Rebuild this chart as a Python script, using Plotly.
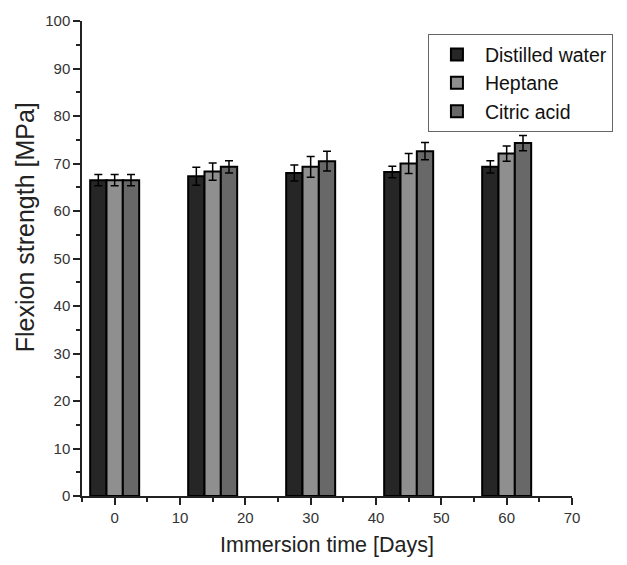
import plotly.graph_objects as go

days = [0, 15, 30, 45, 60]
series_names = ["Distilled water", "Heptane", "Citric acid"]
water = [66.5, 67.3, 68.0, 68.2, 69.3]
water_err = [1.2, 1.9, 1.7, 1.2, 1.3]
heptane = [66.5, 68.3, 69.3, 70.0, 72.1]
heptane_err = [1.2, 1.8, 2.2, 2.1, 1.6]
citric = [66.5, 69.3, 70.5, 72.6, 74.3]
citric_err = [1.2, 1.3, 2.1, 1.8, 1.6]
colors = ["#262626", "#8f8f8f", "#686868"]

fig = go.Figure()
for name, vals, errs, col in zip(series_names, [water, heptane, citric],
                                 [water_err, heptane_err, citric_err], colors):
    fig.add_trace(go.Bar(
        x=days, y=vals, name=name,
        marker=dict(color=col, line=dict(color="black", width=2)),
        error_y=dict(type="data", array=errs, visible=True,
                     color="black", thickness=1.5, width=4),
    ))

font_family = "Liberation Sans, Arial, sans-serif"
fig.update_layout(
    width=627, height=565,
    margin=dict(l=82, r=55, t=21, b=69),
    barmode="group", bargap=0.5, bargroupgap=0,
    plot_bgcolor="white", paper_bgcolor="white",
    font=dict(family=font_family, color="#222"),
    legend=dict(
        x=0.706, y=0.972, xanchor="left", yanchor="top",
        bordercolor="#666", borderwidth=1, bgcolor="white",
        font=dict(size=19.5, color="#111"), tracegroupgap=0,
        itemwidth=46,
    ),
    xaxis=dict(
        range=[-5, 70], tickvals=[0, 10, 20, 30, 40, 50, 60, 70],
        ticks="outside", ticklen=7, tickwidth=1.5, tickcolor="#222",
        showline=True, linecolor="#222", linewidth=1.5,
        showgrid=False, zeroline=False,
        minor=dict(dtick=5, tick0=0, ticks="outside", ticklen=4,
                   tickwidth=1.5, tickcolor="#222", showgrid=False),
        tickfont=dict(size=15, color="#333"),
        title=dict(text="Immersion time [Days]", font=dict(size=21.5, color="#222"), standoff=12),
    ),
    yaxis=dict(
        range=[0, 100], dtick=10,
        ticks="outside", ticklen=7, tickwidth=1.5, tickcolor="#222",
        showline=True, linecolor="#222", linewidth=1.5,
        showgrid=False, zeroline=False,
        minor=dict(dtick=5, tick0=0, ticks="outside", ticklen=4,
                   tickwidth=1.5, tickcolor="#222", showgrid=False),
        tickfont=dict(size=15, color="#333"),
    ),
    annotations=[dict(
        text="Flexion strength [MPa]", textangle=-90,
        xref="paper", yref="paper", x=-0.116, y=0.566,
        xanchor="center", yanchor="middle", showarrow=False,
        font=dict(size=25, color="#222", family=font_family),
    )],
)

fig.write_html("out.html",
               config={"displayModeBar": False},
               post_script="document.body.style.margin='0px';document.body.style.overflow='hidden';")
